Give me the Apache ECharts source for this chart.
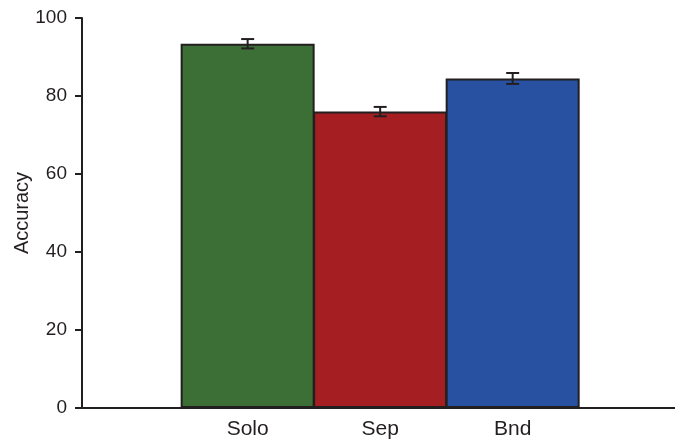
<!DOCTYPE html>
<html>
<head>
<meta charset="utf-8">
<script src="https://cdn.jsdelivr.net/npm/echarts@6/dist/echarts.min.js"></script>
<style>
  html, body { margin: 0; padding: 0; background: #fff; }
  #chart { width: 675px; height: 439px; }
</style>
</head>
<body>
<div id="chart"></div>
<script>
const categories = ["Solo", "Sep", "Bnd"];
const accuracy = [93.4, 76.0, 84.5];
const errors = [1.2, 1.2, 1.4];
const barColors = ["#3c6f36", "#a51f22", "#2852a1"];
const yTicks = [0, 20, 40, 60, 80, 100];

const font = "Liberation Sans, Arial, Helvetica, sans-serif";
const ink = "#231f20";

const chart = echarts.init(document.getElementById("chart"));

// bars sit on a value x axis so the baseline can run past them on both sides
const barData = categories.map((c, i) => ({
  value: [i, accuracy[i]],
  itemStyle: { color: barColors[i] },
}));
const errData = categories.map((c, i) => [i, accuracy[i] - errors[i], accuracy[i] + errors[i]]);

chart.setOption({
  animation: false,
  grid: { left: 82, right: 0, top: 18, bottom: 31, outerBoundsMode: "none" },
  xAxis: {
    type: "value",
    min: -1.25,
    max: 3.225,
    splitLine: { show: false },
    axisLine: { show: true, onZero: false, lineStyle: { color: ink, width: 2 } },
    axisTick: { show: false },
    axisLabel: {
      customValues: [0, 1, 2],
      formatter: (v) => categories[Math.round(v)],
      color: ink,
      fontFamily: font,
      fontSize: 21,
      margin: 11,
    },
  },
  yAxis: {
    type: "value",
    min: 0,
    max: 100,
    interval: 20,
    name: "Accuracy",
    nameLocation: "middle",
    nameGap: 50,
    nameMoveOverlap: false,
    nameTextStyle: { color: ink, fontFamily: font, fontSize: 20 },
    splitLine: { show: false },
    axisLine: { show: true, onZero: false, lineStyle: { color: ink, width: 2 } },
    axisTick: { show: true, length: 7, lineStyle: { color: ink, width: 2 } },
    axisLabel: {
      formatter: (v) => (yTicks.includes(v) ? String(v) : ""),
      color: ink,
      fontFamily: font,
      fontSize: 19,
      margin: 15,
    },
  },
  series: [
    {
      type: "bar",
      data: barData,
      barWidth: 134,
      itemStyle: { borderColor: ink, borderWidth: 2 },
    },
    {
      type: "custom",
      data: errData,
      z: 5,
      renderItem: (params, api) => {
        const x = api.value(0);
        const lo = api.coord([x, api.value(1)]);
        const hi = api.coord([x, api.value(2)]);
        const hw = 6.5;
        const style = { stroke: ink, lineWidth: 2 };
        return {
          type: "group",
          children: [
            { type: "line", shape: { x1: lo[0], y1: lo[1], x2: hi[0], y2: hi[1] }, style },
            { type: "line", shape: { x1: hi[0] - hw, y1: hi[1], x2: hi[0] + hw, y2: hi[1] }, style },
            { type: "line", shape: { x1: lo[0] - hw, y1: lo[1], x2: lo[0] + hw, y2: lo[1] }, style },
          ],
        };
      },
    },
  ],
});
</script>
</body>
</html>
